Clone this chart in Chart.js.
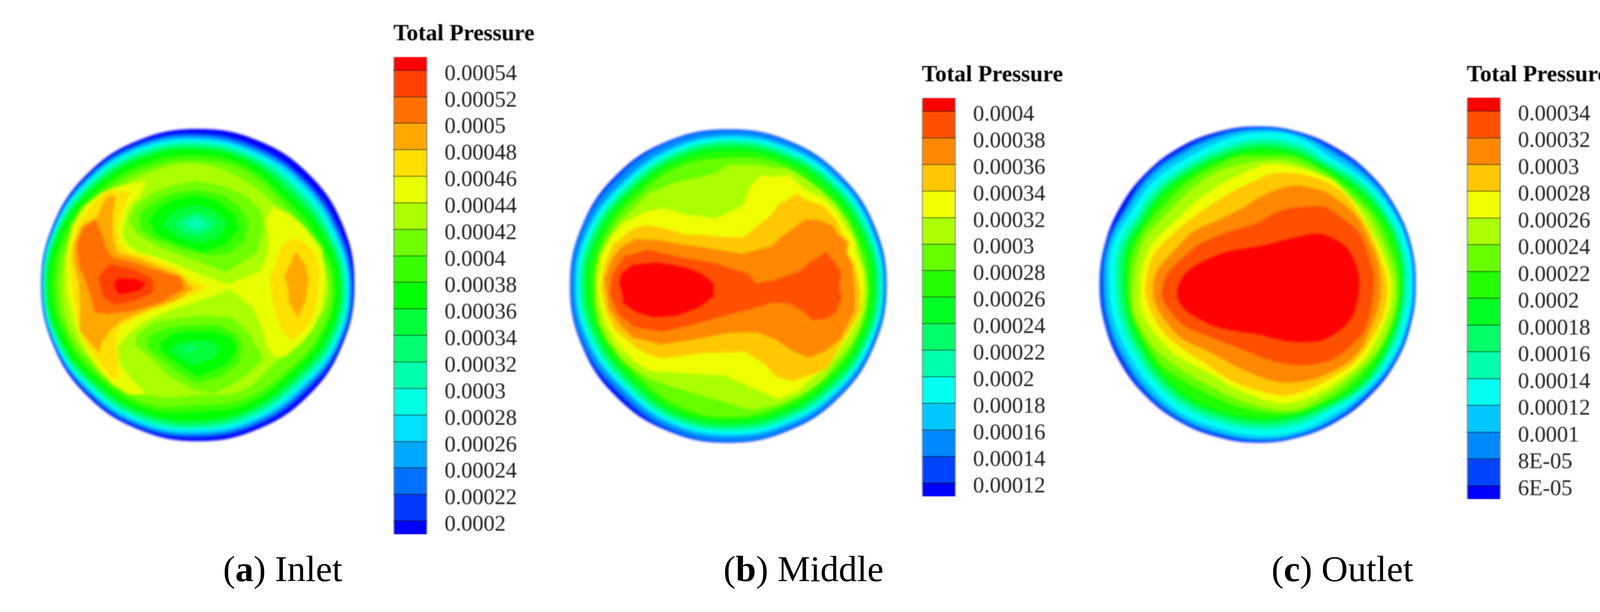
<!DOCTYPE html>
<html lang="en">
<head>
<meta charset="UTF-8">
<title>Total Pressure - Inlet, Middle, Outlet</title>
<script src="https://cdn.jsdelivr.net/npm/chart.js"></script>
<style>
    html, body { margin: 0; padding: 0; background: #fff; width: 4166px; height: 1566px; overflow: hidden; }
    .box { position: absolute; overflow: hidden; }
    .box canvas { display: block; }
    .map canvas { filter: blur(3px); }
    .bar canvas { filter: blur(1px); }
    .caption { position: absolute; top: 1408px; font: 94px/1 "Liberation Serif", serif; color: #000; white-space: nowrap; }
</style>
</head>
<body>
<div class="box map" style="left:60px;top:280px;width:900px;height:900px"><canvas id="mapInlet" width="900" height="900"></canvas></div>
<div class="box map" style="left:1430px;top:300px;width:900px;height:900px"><canvas id="mapMiddle" width="900" height="900"></canvas></div>
<div class="box map" style="left:2780px;top:300px;width:900px;height:900px"><canvas id="mapOutlet" width="900" height="900"></canvas></div>

<div class="box bar" style="left:1000px;top:52px;width:385px;height:1350px"><canvas id="barInlet" width="520" height="1350"></canvas></div>
<div class="box bar" style="left:2353px;top:157px;width:390px;height:1150px"><canvas id="barMiddle" width="520" height="1150"></canvas></div>
<div class="box bar" style="left:3748px;top:157px;width:394px;height:1150px"><canvas id="barOutlet" width="520" height="1150"></canvas></div>

<div class="caption" style="left:571px">(<b>a</b>) Inlet</div>
<div class="caption" style="left:1852px">(<b>b</b>) Middle</div>
<div class="caption" style="left:3255px">(<b>c</b>) Outlet</div>

<script>
// colour bar levels and labels, low to high
const inletLevels = [0.0002,0.00022,0.00024,0.00026,0.00028,0.0003,0.00032,0.00034,0.00036,0.00038,0.0004,0.00042,0.00044,0.00046,0.00048,0.0005,0.00052,0.00054];
const inletLabels = ['0.0002','0.00022','0.00024','0.00026','0.00028','0.0003','0.00032','0.00034','0.00036','0.00038','0.0004','0.00042','0.00044','0.00046','0.00048','0.0005','0.00052','0.00054'];
const inletRange = [0.00019, 0.00055];
const inletColors = ['#0000ff','#0038ff','#0070ff','#00a8ff','#00e0ff','#00ffe0','#00ffaa','#00ff70','#00ff38','#00ff00','#38ff00','#70ff00','#aaff00','#e8ff00','#ffe000','#ffa800','#ff7000','#ff4000','#ff0000'];

const middleLevels = [0.00012,0.00014,0.00016,0.00018,0.0002,0.00022,0.00024,0.00026,0.00028,0.0003,0.00032,0.00034,0.00036,0.00038,0.0004];
const middleLabels = ['0.00012','0.00014','0.00016','0.00018','0.0002','0.00022','0.00024','0.00026','0.00028','0.0003','0.00032','0.00034','0.00036','0.00038','0.0004'];
const middleRange = [0.00011, 0.00041];

const outletLevels = [0.00006,0.00008,0.0001,0.00012,0.00014,0.00016,0.00018,0.0002,0.00022,0.00024,0.00026,0.00028,0.0003,0.00032,0.00034];
const outletLabels = ['6E-05','8E-05','0.0001','0.00012','0.00014','0.00016','0.00018','0.0002','0.00022','0.00024','0.00026','0.00028','0.0003','0.00032','0.00034'];
const outletRange = [0.00005, 0.00035];

const coolWarmColors = ['#0000ff','#0044ff','#0088ff','#00c8ff','#00fff0','#00ffaa','#00ff66','#00ff22','#22ff00','#66ff00','#aaff00','#f0ff00','#ffc800','#ff8800','#ff5000','#ff0000'];

// Inlet section: outer contours as radius per direction (clockwise from top)
const inletCentre = [778, 782];
const inletEdge = [694,696,698,698,697,697,697,696,696,696,698,698,698,698,698,696];
const inletR20 = [677,672,672,679,691,691,680,681,682,690,692,695,696,695,692,686];
const inletR22 = [669,664,665,672,687,686,672,674,675,684,688,693,695,693,688,680];
const inletR24 = [661,655,658,664,681,680,663,665,667,677,682,691,693,691,683,673];
const inletR26 = [652,645,648,655,674,673,653,656,658,669,675,688,691,688,676,665];
const inletR28 = [642,635,635,645,667,664,642,646,648,660,666,683,688,683,668,656];
const inletR30 = [632,624,620,634,658,654,630,634,638,650,657,677,684,677,659,646];
const inletR32 = [622,613,605,623,650,644,618,622,627,639,648,670,679,670,650,635];
const inletR34 = [612,602,590,612,640,632,605,610,616,628,638,663,674,663,640,624];
const inletR36 = [600,590,570,600,630,620,590,597,603,615,628,655,668,655,630,612];
const inletR38 = [578,570,548,575,612,600,570,575,565,597,610,637,650,637,610,590];
const inletR40 = [555,550,525,552,597,582,550,548,535,575,590,618,628,615,590,568];
const inletR42 = [540,510,495,520,580,540,490,510,490,535,565,600,606,595,560,545];

// Inlet section: inner contours as x,y
const inletBand44 = [[545,320],[520,390],[480,420],[450,500],[440,560],[470,610],[520,640],[600,660],[700,700],[800,740],[880,770],[915,780],[960,760],[1060,720],[1090,640],[1095,560],[1080,500],[1115,430],[1190,470],[1260,530],[1330,620],[1345,720],[1345,800],[1330,900],[1290,980],[1240,1040],[1170,1100],[1120,1105],[1085,1060],[1060,960],[1020,880],[920,800],[850,830],[760,860],[640,900],[530,950],[470,1000],[420,1060],[430,1130],[480,1200],[550,1270],[470,1270],[400,1230],[340,1170],[270,1060],[220,930],[190,800],[190,650],[215,520],[270,430],[350,370],[430,340]];
const inletLeft46 = [[370,360],[480,370],[440,450],[420,530],[430,600],[480,640],[560,660],[680,710],[760,770],[820,790],[770,820],[650,870],[540,910],[440,960],[410,1020],[420,1100],[420,1200],[395,1200],[350,1140],[270,1040],[240,930],[220,800],[205,650],[240,520],[300,430]];
const inletLeft48 = [[385,385],[410,390],[395,480],[400,580],[420,640],[500,660],[620,710],[700,740],[755,800],[680,850],[560,890],[440,940],[390,980],[345,1045],[340,1085],[290,1030],[250,985],[255,900],[250,780],[225,680],[225,600],[260,520],[330,480],[365,400]];
const inletLeft50 = [[320,490],[350,560],[370,620],[395,660],[480,680],[600,720],[700,750],[715,800],[610,860],[480,900],[380,910],[320,905],[305,850],[280,770],[250,700],[240,600],[265,530]];
const inletLeft52 = [[385,690],[480,710],[570,750],[580,790],[570,820],[500,850],[400,870],[360,840],[345,790],[335,745]];
const inletLeft54 = [[420,755],[490,755],[545,775],[520,805],[430,825],[410,800],[405,775]];
const inletRight46 = [[1200,575],[1250,590],[1300,640],[1320,720],[1315,830],[1290,920],[1250,990],[1195,1030],[1150,980],[1120,900],[1105,800],[1100,750],[1130,680],[1150,610]];
const inletRight48 = [[1215,635],[1255,690],[1272,760],[1255,860],[1225,925],[1185,860],[1180,790],[1165,745],[1190,690]];
const inletTop42 = [[770,320],[880,340],[980,380],[1060,450],[1070,540],[1040,640],[960,690],[900,725],[820,690],[700,650],[600,610],[510,560],[470,500],[500,430],[580,370],[680,335]];
const inletTop40 = [[770,360],[880,380],[960,430],[1000,500],[990,580],[920,640],[820,650],[700,620],[590,580],[520,530],[520,470],[570,420],[660,375]];
const inletTop38 = [[770,385],[870,410],[940,470],[960,530],[900,600],[800,635],[690,600],[600,560],[560,500],[600,440],[680,400]];
const inletTop36 = [[770,425],[860,450],[910,510],[870,570],[780,600],[690,570],[620,520],[650,470],[700,440]];
const inletTop34 = [[770,460],[830,480],[860,510],[820,550],[770,565],[700,540],[670,510],[710,480]];
const inletTop32 = [[770,480],[810,500],[810,525],[770,540],[730,525],[720,500]];
const inletLow42 = [[700,930],[820,920],[930,930],[1000,990],[1040,1060],[1070,1110],[1000,1180],[940,1220],[850,1265],[760,1250],[650,1190],[570,1110],[500,1050],[510,1000],[580,950]];
const inletLow40 = [[740,965],[860,960],[950,1000],[975,1060],[960,1130],[880,1190],[770,1220],[690,1170],[610,1110],[550,1060],[560,1010],[640,975]];
const inletLow38 = [[740,990],[850,990],[930,1020],[950,1070],[900,1140],[780,1190],[700,1140],[620,1080],[610,1040],[670,1000]];
const inletLow36 = [[740,1030],[820,1030],[880,1060],[850,1110],[760,1140],[700,1110],[650,1075],[680,1045]];
const inletLow34 = [[740,1050],[770,1065],[745,1085],[715,1070]];

// Middle section
const middleCentre = [757, 752];
const middleEdge = [697,700,702,704,705,702,700,698,698,700,702,704,705,704,702,699];
const middleR12 = [696,699,701,703,704,701,699,697,697,698,690,702,704,703,698,698];
const middleR14 = [692,695,698,700,702,698,695,692,692,688,678,696,700,698,690,692];
const middleR16 = [672,677,684,689,693,688,680,675,672,670,660,678,686,680,664,668];
const middleR18 = [660,665,673,681,686,680,670,664,660,658,648,666,676,668,650,655];
const middleR20 = [648,652,660,670,678,670,658,650,645,645,635,652,664,654,636,642];
const middleR22 = [636,640,648,658,668,660,646,636,632,632,622,638,652,642,622,628];
const middleR24 = [622,628,636,646,656,648,632,622,618,618,608,624,638,628,610,615];
const middleR26 = [600,610,618,630,640,632,616,605,600,600,590,608,620,610,592,598];
const middleR28 = [570,590,590,610,622,615,596,585,585,580,568,590,600,590,570,575];
const middle30 = [[755,213],[900,215],[970,228],[1020,228],[1085,265],[1170,325],[1240,390],[1290,460],[1320,530],[1340,600],[1365,690],[1380,760],[1370,850],[1345,940],[1300,1020],[1240,1090],[1180,1170],[1080,1240],[980,1280],[860,1305],[770,1280],[640,1240],[500,1200],[390,1160],[290,1090],[220,1000],[180,920],[165,820],[165,720],[180,620],[220,540],[270,470],[340,400],[400,340],[520,290],[620,270],[700,250]];
const middle32 = [[905,257],[950,268],[1030,260],[1095,320],[1180,360],[1245,430],[1280,490],[1320,550],[1330,610],[1360,680],[1360,770],[1350,870],[1320,930],[1270,1010],[1200,1110],[1120,1170],[1070,1220],[980,1255],[860,1205],[740,1150],[560,1140],[400,1130],[340,1090],[260,1010],[210,920],[180,820],[172,720],[190,620],[235,530],[290,470],[390,420],[470,408],[570,435],[700,452],[820,395],[860,300]];
const middle34 = [[1065,340],[1090,365],[1180,395],[1240,460],[1265,520],[1300,560],[1285,600],[1320,650],[1345,760],[1345,860],[1310,930],[1260,1010],[1195,1120],[1150,1140],[1040,1175],[970,1155],[920,1100],[830,1045],[650,1050],[460,1075],[380,1050],[320,1005],[250,950],[210,860],[190,760],[205,660],[240,570],[330,500],[390,482],[470,495],[570,525],[640,525],[730,535],[825,535],[880,490],[950,435],[980,390]];
const middle36 = [[1100,457],[1160,460],[1225,487],[1240,520],[1285,555],[1285,610],[1305,650],[1320,760],[1320,860],[1255,990],[1190,1040],[1120,1070],[1040,1040],[970,990],[880,957],[760,960],[600,990],[460,1012],[330,980],[270,920],[225,850],[205,720],[240,630],[280,580],[340,545],[440,548],[560,570],[640,580],[820,610],[950,575],[1000,530]];
const middle38 = [[1195,602],[1260,690],[1250,760],[1262,800],[1240,865],[1200,895],[1135,905],[1090,865],[1030,830],[950,823],[900,845],[880,845],[860,855],[790,870],[700,895],[590,925],[460,955],[340,935],[270,880],[230,790],[240,700],[295,620],[400,592],[540,625],[690,650],[770,675],[850,700],[880,742],[970,725],[1075,688],[1120,648]];
const middle40 = [[330,660],[440,648],[570,672],[640,700],[690,740],[690,800],[620,850],[520,885],[420,890],[350,870],[290,830],[285,780],[272,740],[280,700]];

// Outlet section, 24 directions
const outletCentre = [766, 746];
const outletEdge = [704,704,702,703,704,706,704,705,706,704,704,704,704,702,703,704,704,704,704,704,703,703,703,703];
const outletR06 = [703,703,698,702,703,705,703,704,705,702,702,703,702,700,701,702,698,702,702,702,690,696,694,700];
const outletR08 = [696,696,687,692,697,701,699,699,698,691,693,696,696,690,692,690,688,691,691,693,680,689,685,689];
const outletR10 = [689,690,674,682,690,696,694,694,692,684,685,689,687,681,682,679,675,679,680,685,670,675,671,678];
const outletR12 = [676,679,652,665,679,688,686,685,680,672,669,677,672,663,665,658,652,659,661,669,648,652,645,657];
const outletR14 = [648,651,632,650,658,668,668,665,664,660,645,649,644,636,637,631,625,631,633,641,621,625,618,629];
const outletR16 = [630,633,618,635,648,655,655,652,652,650,632,631,626,618,619,613,607,613,615,623,604,608,602,612];
const outletR18 = [614,617,605,620,637,646,645,643,642,640,620,615,610,602,603,597,592,597,599,607,589,594,588,597];
const outletR20 = [596,600,595,605,622,637,635,632,630,625,610,598,592,584,585,580,576,580,582,590,574,578,573,580];
const outlet22 = [[780,175],[920,175],[1050,235],[1170,320],[1280,430],[1360,590],[1395,730],[1380,880],[1310,1040],[1200,1170],[1110,1240],[960,1310],[860,1320],[680,1290],[500,1210],[340,1110],[265,1000],[205,880],[190,760],[205,620],[255,505],[350,390],[450,290],[580,215],[680,175]];
const outlet24 = [[780,195],[900,195],[1040,250],[1140,325],[1250,420],[1330,570],[1380,730],[1370,870],[1305,1030],[1190,1150],[1090,1225],[960,1295],[860,1305],[680,1260],[500,1170],[360,1080],[280,1000],[215,880],[210,760],[225,640],[270,530],[370,420],[470,320],[590,240],[690,210]];
const outlet26 = [[800,212],[880,212],[1000,240],[1100,280],[1190,370],[1250,470],[1320,600],[1360,730],[1350,860],[1290,1000],[1220,1100],[1090,1200],[960,1260],[860,1275],[690,1220],[530,1130],[400,1060],[320,980],[250,870],[240,770],[250,670],[295,565],[390,470],[500,370],[600,300],[700,250]];
const outlet28 = [[840,250],[960,255],[1060,285],[1150,340],[1210,420],[1270,520],[1330,680],[1345,780],[1320,900],[1260,1010],[1190,1100],[1080,1170],[960,1225],[860,1240],[660,1180],[520,1090],[400,1010],[330,940],[280,840],[265,770],[280,670],[310,600],[400,510],[500,430],[640,340],[740,290]];
const outlet30 = [[860,320],[940,305],[1000,315],[1080,340],[1200,435],[1250,520],[1300,640],[1315,780],[1290,890],[1220,1040],[1140,1110],[1000,1170],[860,1180],[700,1125],[560,1050],[420,980],[350,900],[310,830],[300,760],[320,680],[380,610],[480,510],[590,460],[700,405],[770,360]];
const outlet32 = [[905,408],[1060,400],[1130,440],[1220,520],[1260,620],[1285,720],[1275,830],[1240,950],[1180,1020],[1085,1085],[950,1105],[830,1085],[700,1035],[560,980],[440,930],[380,870],[340,800],[350,730],[370,690],[440,620],[510,565],[640,510],[760,475],[840,430]];
const outlet34 = [[1025,520],[1090,535],[1170,590],[1215,700],[1215,790],[1195,870],[1165,920],[1100,970],[1035,998],[900,998],[780,970],[590,935],[465,875],[415,820],[410,760],[450,690],[540,635],[640,598],[780,575],[900,545]];

// radii -> x,y round the section centre
function ring(centre, radii) {
    return radii.map((r, i) => {
        const a = i * 2 * Math.PI / radii.length;
        return [centre[0] + r * Math.sin(a), centre[1] - r * Math.cos(a)];
    });
}

function drawMap(id, layers) {
    const datasets = layers.map((l, i) => {
        const p = l[0], n = p.length;
        // curved loops run past the start so there is no kink where they close
        const loop = l[2] ? [p[n - 1]].concat(p, [p[0], p[1]]) : p.concat([p[0]]);
        return {
            data: loop.map(q => ({ x: q[0], y: q[1] })),
            showLine: true,
            fill: 'shape',
            backgroundColor: l[1],
            borderColor: l[1],
            borderWidth: 1,
            pointRadius: 0,
            tension: l[2] || 0,
            order: layers.length - i   // first layer goes underneath
        };
    });
    new Chart(document.getElementById(id), {
        type: 'scatter',
        data: { datasets: datasets },
        options: {
            responsive: false,
            animation: false,
            events: [],
            layout: { padding: 0 },
            plugins: { legend: { display: false }, tooltip: { enabled: false } },
            scales: {
                x: { type: 'linear', display: false, min: 0, max: 1568 },
                y: { type: 'linear', display: false, min: 0, max: 1568, reverse: true }
            }
        }
    });
}

function drawBar(id, levels, labels, range, colors, title, sizes) {
    const bounds = [range[0]].concat(levels, [range[1]]);
    const datasets = colors.map((c, i) => ({
        data: [[bounds[i], bounds[i + 1]]],
        backgroundColor: c,
        borderWidth: { left: 3, right: 3 },
        borderColor: 'rgba(120,120,120,0.8)',
        borderSkipped: false,
        barPercentage: 1,
        categoryPercentage: 1,
        grouped: false
    }));
    new Chart(document.getElementById(id), {
        type: 'bar',
        data: { labels: ['Total Pressure'], datasets: datasets },
        options: {
            responsive: false,
            animation: false,
            events: [],
            layout: { padding: { left: sizes.left, top: 0, bottom: sizes.bottom } },
            plugins: {
                legend: { display: false },
                tooltip: { enabled: false },
                title: {
                    display: true,
                    text: title,
                    align: 'start',
                    color: '#000',
                    font: { family: '"Liberation Serif"', size: 59, weight: 'bold' },
                    padding: { top: 0, bottom: sizes.gap }
                }
            },
            scales: {
                x: { display: false },
                y: {
                    position: 'right',
                    min: range[0],
                    max: range[1],
                    afterBuildTicks: axis => { axis.ticks = levels.map(v => ({ value: v })); },
                    afterFit: axis => {
                        axis.width = 520 - sizes.left - 87;
                        // labels sit below their level, keep the bar at full height
                        axis.paddingTop = 0;
                        axis.paddingBottom = 0;
                    },
                    grid: { z: 1, color: 'rgba(0,0,0,0.6)', lineWidth: 2, drawTicks: false, tickLength: 0 },
                    border: { display: false },
                    ticks: {
                        autoSkip: false,
                        padding: 44,
                        labelOffset: sizes.labelOffset,
                        color: '#222',
                        font: { family: '"Liberation Serif"', size: 57 },
                        callback: (v, i) => labels[i]
                    }
                }
            }
        }
    });
}

const c = inletColors, d = coolWarmColors;
const rc = inletCentre, mc = middleCentre, oc = outletCentre;

drawMap('mapInlet', [
    [ring(rc, inletEdge), c[0], 0.4], [ring(rc, inletR20), c[1], 0.4], [ring(rc, inletR22), c[2], 0.4],
    [ring(rc, inletR24), c[3], 0.4], [ring(rc, inletR26), c[4], 0.4], [ring(rc, inletR28), c[5], 0.4],
    [ring(rc, inletR30), c[6], 0.4], [ring(rc, inletR32), c[7], 0.4], [ring(rc, inletR34), c[8], 0.4],
    [ring(rc, inletR36), c[9], 0.4], [ring(rc, inletR38), c[10], 0.4], [ring(rc, inletR40), c[11], 0.4],
    [ring(rc, inletR42), c[12], 0.4],
    [inletBand44, c[13]], [inletLeft46, c[14]], [inletRight46, c[14]],
    [inletLeft48, c[15]], [inletRight48, c[15]], [inletLeft50, c[16]], [inletLeft52, c[17]], [inletLeft54, c[18]],
    [inletTop42, c[11]], [inletTop40, c[10]], [inletTop38, c[9]], [inletTop36, c[8]], [inletTop34, c[7]], [inletTop32, c[6]],
    [inletLow42, c[11]], [inletLow40, c[10]], [inletLow38, c[9]], [inletLow36, c[8]], [inletLow34, c[7]]
]);

drawMap('mapMiddle', [
    [ring(mc, middleEdge), d[0], 0.4], [ring(mc, middleR12), d[1], 0.4], [ring(mc, middleR14), d[2], 0.4],
    [ring(mc, middleR16), d[3], 0.4], [ring(mc, middleR18), d[4], 0.4], [ring(mc, middleR20), d[5], 0.4],
    [ring(mc, middleR22), d[6], 0.4], [ring(mc, middleR24), d[7], 0.4], [ring(mc, middleR26), d[8], 0.4],
    [ring(mc, middleR28), d[9], 0.4],
    [middle30, d[10]], [middle32, d[11]], [middle34, d[12]], [middle36, d[13]], [middle38, d[14]], [middle40, d[15]]
]);

drawMap('mapOutlet', [
    [ring(oc, outletEdge), d[0], 0.4], [ring(oc, outletR06), d[1], 0.4], [ring(oc, outletR08), d[2], 0.4],
    [ring(oc, outletR10), d[3], 0.4], [ring(oc, outletR12), d[4], 0.4], [ring(oc, outletR14), d[5], 0.4],
    [ring(oc, outletR16), d[6], 0.4], [ring(oc, outletR18), d[7], 0.4], [ring(oc, outletR20), d[8], 0.4],
    [outlet22, d[9], 0.3], [outlet24, d[10], 0.3], [outlet26, d[11], 0.3], [outlet28, d[12], 0.3],
    [outlet30, d[13], 0.3], [outlet32, d[14], 0.3], [outlet34, d[15], 0.3]
]);

drawBar('barInlet', inletLevels, inletLabels, inletRange, inletColors, 'Total Pressure [', { left: 7, bottom: 1350 - (1367 - 52), gap: 23, labelOffset: 10 });
drawBar('barMiddle', middleLevels, middleLabels, middleRange, coolWarmColors, 'Total Pressure', { left: 7, bottom: 1150 - (1270 - 157), gap: 23, labelOffset: 9 });
drawBar('barOutlet', outletLevels, outletLabels, outletRange, coolWarmColors, 'Total Pressure [', { left: 7, bottom: 1150 - (1277 - 157), gap: 22, labelOffset: 9 });
</script>
</body>
</html>
